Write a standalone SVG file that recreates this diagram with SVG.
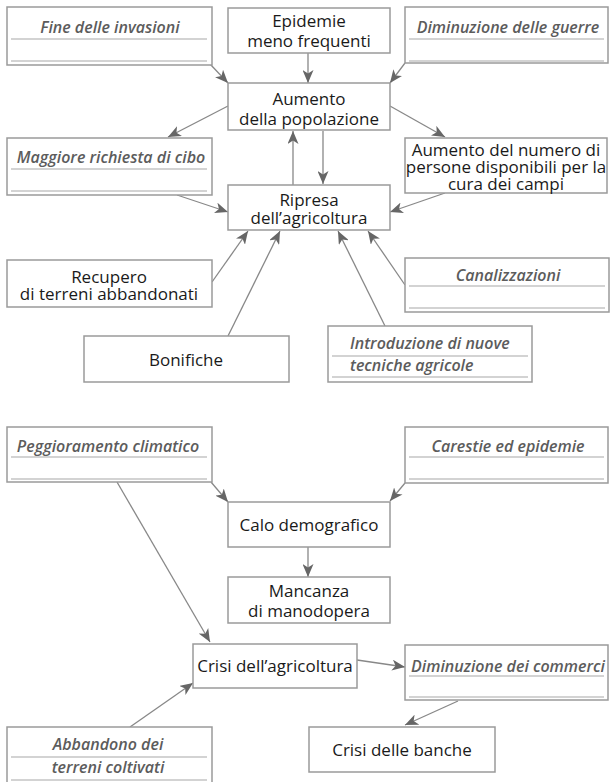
<svg xmlns="http://www.w3.org/2000/svg" width="610" height="782" viewBox="0 0 610 782">
<style>
.box{fill:#fff;stroke:#9a9a9a;stroke-width:1.5}
.ul{stroke:#a8a8a8;stroke-width:1.2}
.t{font-family:"Open Sans","Liberation Sans",sans-serif;font-size:17px;fill:#1a1a1a;text-anchor:middle}
.i{font-family:"Open Sans","Liberation Sans",sans-serif;font-size:16px;font-weight:600;font-style:italic;fill:#5c5c5c;text-anchor:middle}
.c line{stroke:#888;stroke-width:1.3;marker-end:url(#ah)}
</style>
<defs>
<marker id="ah" markerUnits="userSpaceOnUse" markerWidth="14" markerHeight="11" refX="13" refY="5.5" orient="auto">
<path d="M0,0 L13,5.5 L0,11 L3.5,5.5 z" fill="#666"/>
</marker>
</defs>
<g class="c" id="connectors">
<line x1="210" y1="64" x2="228" y2="83"/>
<line x1="308" y1="53" x2="308" y2="83"/>
<line x1="405" y1="63" x2="390" y2="83"/>
<line x1="228" y1="106" x2="168" y2="137"/>
<line x1="390" y1="106" x2="445" y2="137"/>
<line x1="293" y1="185" x2="293" y2="131"/>
<line x1="323" y1="131" x2="323" y2="184"/>
<line x1="177" y1="195" x2="228" y2="212"/>
<line x1="445" y1="193" x2="390" y2="212"/>
<line x1="212" y1="282" x2="248" y2="231"/>
<line x1="228" y1="336" x2="280" y2="231"/>
<line x1="385" y1="326" x2="338" y2="231"/>
<line x1="405" y1="285" x2="368" y2="231"/>
<line x1="211" y1="482" x2="228" y2="502"/>
<line x1="405" y1="483" x2="390" y2="501"/>
<line x1="308" y1="547" x2="308" y2="577"/>
<line x1="117" y1="482" x2="210" y2="642"/>
<line x1="130" y1="727" x2="193" y2="683"/>
<line x1="357" y1="660" x2="405" y2="667"/>
<line x1="458" y1="701" x2="405" y2="725"/>
</g>
<g id="n1"><rect class="box" x="7" y="7" width="205" height="58"/><line class="ul" x1="11" y1="39" x2="207" y2="39"/><line class="ul" x1="11" y1="61" x2="207" y2="61"/><text class="i" x="110" y="33">Fine delle invasioni</text></g>
<g id="n2"><rect class="box" x="228" y="8" width="162" height="45"/><text class="t" x="309" y="27">Epidemie</text><text class="t" x="309" y="47">meno frequenti</text></g>
<g id="n3"><rect class="box" x="405" y="7" width="203" height="56"/><line class="ul" x1="409" y1="39" x2="604" y2="39"/><line class="ul" x1="409" y1="61" x2="604" y2="61"/><text class="i" x="508" y="33">Diminuzione delle guerre</text></g>
<g id="n4"><rect class="box" x="228" y="83" width="162" height="47"/><text class="t" x="309" y="105">Aumento</text><text class="t" x="309" y="125">della popolazione</text></g>
<g id="n5"><rect class="box" x="7" y="138" width="205" height="57"/><line class="ul" x1="11" y1="169" x2="207" y2="169"/><line class="ul" x1="11" y1="191" x2="207" y2="191"/><text class="i" x="111" y="163">Maggiore richiesta di cibo</text></g>
<g id="n6"><rect class="box" x="405" y="138" width="202" height="55"/><text class="t" x="506" y="156">Aumento del numero di</text><text class="t" x="506" y="173">persone disponibili per la</text><text class="t" x="506" y="190">cura dei campi</text></g>
<g id="n7"><rect class="box" x="228" y="185" width="162" height="45"/><text class="t" x="309" y="206">Ripresa</text><text class="t" x="309" y="224">dell’agricoltura</text></g>
<g id="n8"><rect class="box" x="7" y="260" width="205" height="47"/><text class="t" x="109" y="283">Recupero</text><text class="t" x="109" y="300">di terreni abbandonati</text></g>
<g id="n9"><rect class="box" x="405" y="258" width="204" height="54"/><line class="ul" x1="409" y1="286" x2="605" y2="286"/><line class="ul" x1="409" y1="308" x2="605" y2="308"/><text class="i" x="508" y="281">Canalizzazioni</text></g>
<g id="n10"><rect class="box" x="84" y="336" width="205" height="46"/><text class="t" x="186" y="366">Bonifiche</text></g>
<g id="n11"><rect class="box" x="328" y="326" width="204" height="56"/><line class="ul" x1="332" y1="356" x2="528" y2="356"/><line class="ul" x1="332" y1="377" x2="528" y2="377"/><text class="i" x="350" y="349" style="text-anchor:start">Introduzione di nuove</text><text class="i" x="350" y="371" style="text-anchor:start">tecniche agricole</text></g>
<g id="n12"><rect class="box" x="7" y="427" width="205" height="55"/><line class="ul" x1="11" y1="457" x2="207" y2="457"/><line class="ul" x1="11" y1="479" x2="207" y2="479"/><text class="i" x="108" y="452">Peggioramento climatico</text></g>
<g id="n13"><rect class="box" x="405" y="427" width="203" height="56"/><line class="ul" x1="409" y1="457" x2="604" y2="457"/><line class="ul" x1="409" y1="479" x2="604" y2="479"/><text class="i" x="508" y="452">Carestie ed epidemie</text></g>
<g id="n14"><rect class="box" x="228" y="502" width="162" height="45"/><text class="t" x="309" y="531">Calo demografico</text></g>
<g id="n15"><rect class="box" x="228" y="577" width="162" height="46"/><text class="t" x="309" y="597">Mancanza</text><text class="t" x="309" y="617">di manodopera</text></g>
<g id="n16"><rect class="box" x="193" y="644" width="164" height="44"/><text class="t" x="275" y="672">Crisi dell’agricoltura</text></g>
<g id="n17"><rect class="box" x="405" y="645" width="203" height="55"/><line class="ul" x1="409" y1="676" x2="604" y2="676"/><line class="ul" x1="409" y1="697" x2="604" y2="697"/><text class="i" x="508" y="672">Diminuzione dei commerci</text></g>
<g id="n18"><rect class="box" x="309" y="727" width="186" height="45"/><text class="t" x="402" y="756">Crisi delle banche</text></g>
<g id="n19"><rect class="box" x="7" y="727" width="205" height="60"/><line class="ul" x1="11" y1="757" x2="207" y2="757"/><line class="ul" x1="11" y1="780" x2="207" y2="780"/><text class="i" x="108" y="750">Abbandono dei</text><text class="i" x="108" y="773">terreni coltivati</text></g>
</svg>
